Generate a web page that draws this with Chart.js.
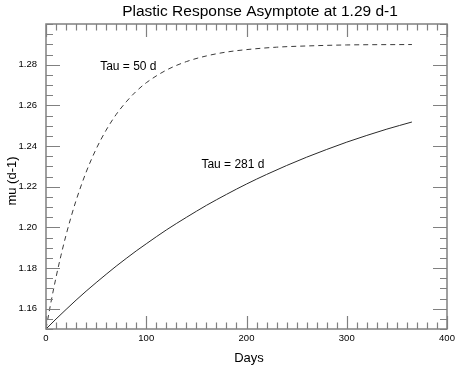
<!DOCTYPE html>
<html>
<head>
<meta charset="utf-8">
<script src="https://cdn.jsdelivr.net/npm/chart.js@4"></script>
<style>
html,body{margin:0;padding:0;background:#fff;}
#wrap{width:459px;height:369px;position:relative;}
</style>
</head>
<body>
<div id="wrap"><canvas id="c" width="459" height="369"></canvas></div>
<script>
// Data
const daysSlow = [0, 10, 20, 30, 40, 50, 60, 70, 80, 90, 100, 120, 140, 160, 180, 200, 220, 240, 260, 280, 300, 320, 340, 365];
const muSlow   = [1.150, 1.1549, 1.1596, 1.1642, 1.1686, 1.1728, 1.1769, 1.1809, 1.1847, 1.1884, 1.1919, 1.1987, 1.2049, 1.2108, 1.2162, 1.2213, 1.2260, 1.2304, 1.2345, 1.2383, 1.2419, 1.2452, 1.2483, 1.2518];
const daysFast = [0, 5, 10, 15, 20, 25, 30, 40, 50, 60, 70, 80, 90, 100, 120, 140, 160, 180, 200, 230, 260, 300, 365];
const muFast   = [1.150, 1.1633, 1.1754, 1.1863, 1.1962, 1.2051, 1.2132, 1.2271, 1.2385, 1.2478, 1.2555, 1.2617, 1.2669, 1.2711, 1.2773, 1.2815, 1.2843, 1.2862, 1.2874, 1.2886, 1.2892, 1.2897, 1.2899];
const xTickValues = [0, 100, 200, 300, 400];
const yTickValues = [1.16, 1.18, 1.20, 1.22, 1.24, 1.26, 1.28];
const xMinorStep = 10;
const yMinorStep = 0.005;
const titleText = "Plastic Response Asymptote at 1.29 d-1";
const xTitle = "Days";
const yTitle = "mu (d-1)";
const labels = [
  {text: "Tau = 50 d", x: 54, y: 1.279},
  {text: "Tau = 281 d", x: 155, y: 1.2308}
];

const FONT = "'Liberation Sans', Arial, Helvetica, sans-serif";
const AXIS_COLOR = "#808080";

const decor = {
  id: 'decor',
  afterDatasetsDraw(chart) {
    const ctx = chart.ctx;
    const a = chart.chartArea;
    const xs = chart.scales.x, ys = chart.scales.y;
    ctx.save();
    ctx.strokeStyle = AXIS_COLOR;
    ctx.lineWidth = 1.5;
    ctx.strokeRect(a.left, a.top, a.right - a.left, a.bottom - a.top);
    ctx.lineWidth = 1.2;
    ctx.beginPath();
    for (let v = xs.min; v <= xs.max + 1e-9; v += xMinorStep) {
      const px = Math.round(xs.getPixelForValue(v)) + 0.5;
      const major = xTickValues.some(t => Math.abs(t - v) < 1e-6);
      const len = major ? 13 : 6.5;
      ctx.moveTo(px, a.bottom); ctx.lineTo(px, a.bottom - len);
      ctx.moveTo(px, a.top); ctx.lineTo(px, a.top + len);
    }
    const n = Math.round((ys.max - ys.min) / yMinorStep);
    for (let i = 0; i <= n; i++) {
      const v = ys.min + i * yMinorStep;
      const py = Math.round(ys.getPixelForValue(v)) + 0.5;
      const major = yTickValues.some(t => Math.abs(t - v) < 1e-6);
      const len = major ? 14 : 7;
      ctx.moveTo(a.left, py); ctx.lineTo(a.left + len, py);
      ctx.moveTo(a.right, py); ctx.lineTo(a.right - len, py);
    }
    ctx.stroke();

    ctx.fillStyle = "#000";
    ctx.font = "12px " + FONT;
    ctx.textAlign = "left";
    ctx.textBaseline = "middle";
    labels.forEach(l => {
      ctx.fillText(l.text, xs.getPixelForValue(l.x), ys.getPixelForValue(l.y));
    });

    ctx.font = "15.5px " + FONT;
    ctx.textAlign = "center";
    ctx.textBaseline = "middle";
    ctx.fillText(titleText, 260, 12);

    ctx.font = "13px " + FONT;
    ctx.textBaseline = "alphabetic";
    ctx.fillText(xTitle, 249, 362);

    ctx.save();
    ctx.translate(16, 181);
    ctx.rotate(-Math.PI / 2);
    ctx.textBaseline = "alphabetic";
    ctx.fillText(yTitle, 0, 0);
    ctx.restore();
    ctx.restore();
  }
};

new Chart(document.getElementById('c'), {
  type: 'line',
  data: {
    datasets: [
      {
        label: 'Tau = 50 d',
        data: daysFast.map((d, i) => ({x: d, y: muFast[i]})),
        borderColor: '#3a3a3a',
        borderWidth: 1,
        borderDash: [5, 4],
        pointRadius: 0,
        cubicInterpolationMode: 'monotone',
        fill: false
      },
      {
        label: 'Tau = 281 d',
        data: daysSlow.map((d, i) => ({x: d, y: muSlow[i]})),
        borderColor: '#2a2a2a',
        borderWidth: 1,
        pointRadius: 0,
        cubicInterpolationMode: 'monotone',
        fill: false
      }
    ]
  },
  options: {
    responsive: false,
    animation: false,
    devicePixelRatio: 1,
    layout: {padding: {top: 24, right: 12, left: 0, bottom: 0}},
    plugins: {legend: {display: false}, title: {display: false}, tooltip: {enabled: false}},
    scales: {
      x: {
        type: 'linear', min: 0, max: 400,
        grid: {display: false, drawTicks: false},
        border: {display: false},
        afterBuildTicks: s => { s.ticks = xTickValues.map(v => ({value: v})); },
        afterFit: s => { s.height = 40; },
        ticks: {
          padding: 4, color: '#000', maxRotation: 0, autoSkip: false,
          font: {family: FONT, size: 9.5},
          callback: v => String(v)
        }
      },
      y: {
        type: 'linear', min: 1.15, max: 1.30,
        grid: {display: false, drawTicks: false},
        border: {display: false},
        afterBuildTicks: s => { s.ticks = yTickValues.map(v => ({value: v})); },
        afterFit: s => { s.width = 46; },
        ticks: {
          padding: 9, color: '#000', autoSkip: false,
          font: {family: FONT, size: 9.5},
          callback: v => Number(v).toFixed(2)
        }
      }
    }
  },
  plugins: [decor]
});
</script>
</body>
</html>
